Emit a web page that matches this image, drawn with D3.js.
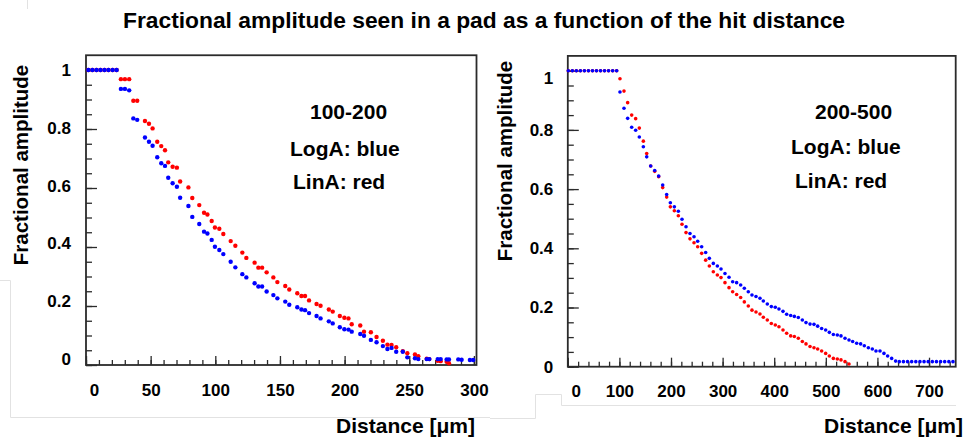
<!DOCTYPE html>
<html><head><meta charset="utf-8">
<script src="https://cdn.jsdelivr.net/npm/d3@7"></script>
<style>
body{margin:0;background:#fff}
svg{display:block}
text{font-family:"Liberation Sans",Arial,Helvetica,sans-serif;font-weight:bold;fill:#000}
</style>
</head><body>
<svg id="chart" width="966" height="445"></svg>
<script>
// ---------- data ----------
const titleText = "Fractional amplitude seen in a pad as a function of the hit distance";
const yTitle = "Fractional amplitude";
const xTitle = "Distance [\u03bcm]";
const yTicks = [0, 0.2, 0.4, 0.6, 0.8, 1];
const leftXTicks = [0, 50, 100, 150, 200, 250, 300];
const rightXTicks = [0, 100, 200, 300, 400, 500, 600, 700];
const leftNotes = ["100-200", "LogA: blue", "LinA: red"];
const rightNotes = ["200-500", "LogA: blue", "LinA: red"];

// left panel (100-200)
const leftDistance = [1.8,4.9,8.1,11.2,14.3,17.4,20.6,23.7,27.0,30.1,33.4,36.6,39.6,
  45.6,48.7,51.5,55.1,58.2,61.1,63.6,67.0,70.3,72.8,
  79.2,82.2,87.6,91.3,93.9,97.2,99.7,103.1,106.2,
  111.9,115.5,120.9,124.0,130.4,133.3,136.2,139.7,
  144.9,148.0,154.1,157.2,163.4,166.6,169.4,172.5,
  178.3,181.4,187.8,190.8,196.3,199.8,203.0,205.5,
  212.1,215.0,220.3,224.7,229.6,233.1,236.3,239.9,
  245.0,248.5,254.4,257.0,263.5,265.5,272.0,274.3,
  278.9,280.7,287.9,290.5,296.9,299.5];
const leftLinA = [1,1,1,1,1,1,1,1,0.969,0.969,0.969,0.896,0.896,
  0.827,0.818,0.802,0.757,0.742,0.728,0.687,0.672,0.669,0.622,
  0.602,0.566,0.542,0.516,0.510,0.488,0.466,0.462,0.444,
  0.420,0.404,0.381,0.363,0.347,0.330,0.330,0.314,
  0.297,0.281,0.268,0.256,0.243,0.234,0.234,0.219,
  0.207,0.201,0.188,0.181,0.166,0.160,0.158,0.138,
  0.134,0.113,0.111,0.095,0.082,0.069,0.068,0.060,
  0.047,0.040,0.036,0.030,0.021,0.020,0.014,0.013,
  0.011,0.006];
const leftLogA = [1,1,1,1,1,1,1,1,0.936,0.936,0.931,0.836,0.831,
  0.771,0.757,0.743,0.704,0.684,0.675,0.635,0.616,0.604,0.567,
  0.539,0.502,0.478,0.452,0.446,0.424,0.401,0.390,0.376,
  0.350,0.331,0.308,0.297,0.277,0.266,0.266,0.249,
  0.237,0.226,0.215,0.204,0.196,0.188,0.186,0.176,
  0.166,0.158,0.148,0.141,0.128,0.121,0.120,0.113,
  0.105,0.099,0.085,0.077,0.064,0.054,0.058,0.045,
  0.045,0.026,0.023,0.020,0.020,0.020,0.020,0.020,
  0.019,0.019,0.019,0.018,0.017,0.017];

// right panel (200-500)
const rightDistance = [1.0,8.8,16.6,24.4,32.2,40.0,47.8,55.6,63.4,71.2,79.0,86.9,94.7,
  101.1,108.9,116.0,123.8,131.5,138.6,146.4,152.9,160.6,168.4,
  176.1,183.9,191.6,198.7,206.5,214.2,221.3,229.1,236.8,244.6,
  251.7,259.4,267.2,274.3,282.0,289.8,296.9,304.6,312.4,319.5,
  327.2,335.0,342.1,349.8,356.9,364.7,372.4,378.9,386.6,394.4,
  402.1,409.2,417.0,424.1,431.9,439.0,446.7,454.5,461.6,469.4,
  477.1,484.2,491.9,499.7,506.8,514.6,522.3,529.4,537.2,544.9,
  552.0,559.8,567.5,574.6,582.4,590.1,597.2,605.0,612.7,619.8,
  627.6,635.3,
  642.4,650.4,658.4,666.4,674.4,682.4,690.4,698.4,706.4,714.4,722.4,730.4,738.4,746.4];
const rightLogA = [1,1,1,1,1,1,1,1,1,1,1,1,1,
  0.928,0.873,0.839,0.809,0.799,0.776,0.743,0.709,0.678,0.663,
  0.644,0.614,0.582,0.554,0.540,0.525,0.498,0.473,0.450,0.439,
  0.424,0.405,0.386,0.366,0.349,0.340,0.330,0.315,0.302,0.287,
  0.284,0.276,0.265,0.253,0.242,0.237,0.231,0.222,0.212,0.203,
  0.201,0.195,0.187,0.177,0.173,0.170,0.166,0.158,0.149,0.144,
  0.143,0.137,0.129,0.124,0.116,0.109,0.107,0.104,0.096,0.090,
  0.085,0.079,0.077,0.071,0.064,0.060,0.053,0.053,0.045,0.036,
  0.028,0.019,
  0.017,0.017,0.017,0.017,0.017,0.017,0.017,0.017,0.017,0.017,0.017,0.017,0.017,0.017];
const rightLinA = [1,1,1,1,1,1,1,1,1,1,1,1,1,
  0.973,0.931,0.892,0.850,0.838,0.806,0.762,0.720,0.678,0.660,
  0.642,0.605,0.573,0.540,0.527,0.510,0.481,0.453,0.432,0.419,
  0.405,0.383,0.360,0.340,0.321,0.310,0.301,0.284,0.267,0.253,
  0.244,0.234,0.219,0.205,0.191,0.185,0.178,0.167,0.158,0.146,
  0.141,0.135,0.124,0.113,0.104,0.102,0.096,0.085,0.077,0.068,
  0.064,0.060,0.053,0.045,0.036,0.028,0.026,0.023,0.017,0.009];

// ---------- drawing ----------
const svg = d3.select("#chart");
svg.append("rect").attr("width", 966).attr("height", 445).attr("fill", "#fff");

// faint page artefacts of the original composite
const faint = svg.append("g").attr("fill", "none").attr("stroke", "#e2e2e2").attr("stroke-width", 1);
faint.append("path").attr("d", "M0,280.5H10.5V417.5H490");
faint.append("path").attr("d", "M490,418.5H535.5V394.5H561.5V405.5H956");
faint.append("path").attr("d", "M27.5,0V9");

svg.append("text").attr("x", 484).attr("y", 28).attr("text-anchor", "middle")
  .style("font-size", "22.8px").text(titleText);

function panel(cfg) {
  const g = svg.append("g");
  const x = d3.scaleLinear().domain([0, cfg.xMax]).range([cfg.x0, cfg.x1]);
  const y = d3.scaleLinear().domain([0, 1.05]).range([cfg.yB, cfg.yT]);

  g.append("rect").attr("x", cfg.x0).attr("y", cfg.yT)
    .attr("width", cfg.x1 - cfg.x0).attr("height", cfg.yB - cfg.yT)
    .attr("fill", "#fff").attr("stroke", "#2b2b2b").attr("stroke-width", 1.8);

  const minorY = d3.range(0, 1.0001, 0.05);
  const minorX = d3.range(0, cfg.xMax, cfg.xMinor);

  const styleAxis = sel => {
    sel.select(".domain").remove();
    sel.selectAll("line").attr("stroke", "#2b2b2b").attr("stroke-width", 1.3);
  };

  g.append("g").attr("transform", `translate(${cfg.x0},0)`)
    .call(d3.axisLeft(y).tickValues(minorY).tickSize(-6).tickFormat(""))
    .call(styleAxis);
  const ya = g.append("g").attr("transform", `translate(${cfg.x0},0)`)
    .call(d3.axisLeft(y).tickValues(yTicks).tickSize(-11).tickPadding(cfg.yPad).tickFormat(d => String(d)))
    .call(styleAxis);
  ya.selectAll("text").style("font-size", "17px").attr("fill", "#000")
    .attr("y", d => cfg.yLabelShift(d));

  g.append("g").attr("transform", `translate(0,${cfg.yB})`)
    .call(d3.axisBottom(x).tickValues(minorX).tickSize(-5).tickFormat(""))
    .call(styleAxis);
  const xa = g.append("g").attr("transform", `translate(0,${cfg.yB})`)
    .call(d3.axisBottom(x).tickValues(cfg.xTicks).tickSize(-9).tickPadding(cfg.xPad).tickFormat(d => String(d)))
    .call(styleAxis);
  xa.selectAll("text").style("font-size", "17px").attr("fill", "#000")
    .attr("x", d => d === 0 ? 8 : 0);

  // points: LinA (red) first, LogA (blue) on top
  const red = cfg.lin.map((v, i) => [cfg.dist[i], v]);
  const blue = cfg.log.map((v, i) => [cfg.dist[i], v]);
  g.append("g").attr("fill", "#ff0000").selectAll("circle").data(red).join("circle")
    .attr("cx", d => x(d[0])).attr("cy", d => y(d[1])).attr("r", cfg.r);
  g.append("g").attr("fill", "#0000ff").selectAll("circle").data(blue).join("circle")
    .attr("cx", d => x(d[0])).attr("cy", d => y(d[1])).attr("r", cfg.r);

  // notes
  cfg.notes.forEach((t, i) => {
    g.append("text").attr("x", cfg.noteX[i]).attr("y", cfg.noteY[i])
      .style("font-size", "21px").text(t);
  });

  // axis titles
  g.append("text").attr("transform", `translate(${cfg.yTitleX},${cfg.yTitleY}) rotate(-90)`)
    .attr("text-anchor", "middle").style("font-size", "20.5px").text(yTitle);
  g.append("text").attr("x", cfg.xTitleX).attr("y", 433).attr("text-anchor", "end")
    .style("font-size", "21px").text(xTitle);
}

panel({
  x0: 86, x1: 476.5, yB: 365, yT: 55.25, xMax: 302, xMinor: 10, xTicks: leftXTicks,
  yPad: 15, xPad: 19, r: 2.2,
  yLabelShift: v => -6 * (1 - v),
  dist: leftDistance, lin: leftLinA, log: leftLogA,
  notes: leftNotes, noteX: [310, 290, 293], noteY: [118.5, 155.5, 189],
  yTitleX: 28, yTitleY: 165, xTitleX: 475
});
panel({
  x0: 567.8, x1: 955.7, yB: 366.7, yT: 55.9, xMax: 751.7, xMinor: 20, xTicks: rightXTicks,
  yPad: 14.5, xPad: 18, r: 1.8,
  yLabelShift: v => v === 1 ? 7 : 0,
  dist: rightDistance, lin: rightLinA, log: rightLogA,
  notes: rightNotes, noteX: [815, 791, 795], noteY: [118.5, 154, 188],
  yTitleX: 512, yTitleY: 161, xTitleX: 963
});
</script>
</body></html>
